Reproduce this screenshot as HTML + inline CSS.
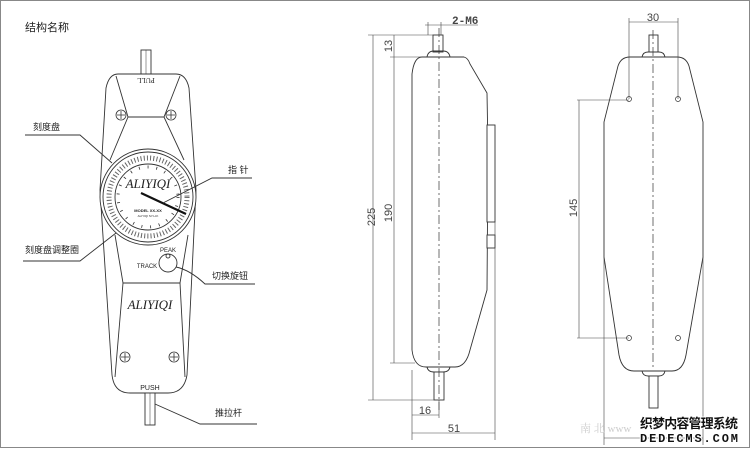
<!DOCTYPE html>
<html><head><meta charset="utf-8"><style>
html,body{margin:0;padding:0;background:#fff}
svg{display:block}
text{font-family:"Liberation Sans","Noto Sans CJK SC",sans-serif}
</style></head><body>
<svg width="750" height="450" viewBox="0 0 750 450" xmlns="http://www.w3.org/2000/svg">
<rect x="0.5" y="0.5" width="749" height="447" fill="#fff" stroke="#888" stroke-width="1"/>
<g fill="none" stroke="#333" stroke-width="0.9">
<rect x="141" y="50" width="10" height="24" fill="#fff"/>
<line x1="146" y1="50" x2="146" y2="74" stroke-width="0.5"/>
<path d="M118,74 L176,74 Q186,74 189,88 L196,190 L187,375 Q184,393 168,393 L130,393 Q114,393 112,375 L100,190 L106,88 Q109,74 118,74 Z" fill="#fff"/>
<path d="M116,76 L128,117 L164,117 L180,76"/>
<path d="M128,117 L110,160 M164,117 L184,160"/>
<path d="M115,235 L123,283 L180,283 L188,235"/>
<path d="M123,283 L115,377 M180,283 L185,377"/>
<g stroke-width="0.8">
<circle cx="121" cy="115" r="5" fill="#fff"/><path d="M117,115h8M121,111v8"/>
<circle cx="171" cy="115" r="5" fill="#fff"/><path d="M167,115h8M171,111v8"/>
<circle cx="125" cy="357" r="5" fill="#fff"/><path d="M121,357h8M125,353v8"/>
<circle cx="174" cy="357" r="5" fill="#fff"/><path d="M170,357h8M174,353v8"/>
</g>
<circle cx="148" cy="197" r="48" fill="#fff"/>
<circle cx="148" cy="197" r="45"/>
<circle cx="148" cy="197" r="39" stroke-dasharray="1 2.2" stroke-width="5" stroke="#666"/>
<circle cx="148" cy="197" r="33" fill="#fff"/>
<circle cx="148" cy="197" r="30" stroke-dasharray="0.8 8" stroke-width="3"/>
<line x1="141" y1="193" x2="186" y2="214" stroke="#111" stroke-width="2.2"/>
<circle cx="168" cy="263" r="9" fill="#fff"/>
<circle cx="168" cy="256" r="2"/>
<rect x="145" y="393" width="10" height="32" fill="#fff"/>
<line x1="150" y1="393" x2="150" y2="425" stroke-width="0.5"/>
<path d="M25,135 L80,135 L112,163"/>
<path d="M252,178 L212,178 L163,203"/>
<path d="M23,261 L80,261 L116,233"/>
<path d="M255,284 L205,284 Q190,270 176,267"/>
<path d="M257,424 L200,424 L155,404"/>
</g>
<g fill="#222">
<text x="25" y="31" font-size="11">结构名称</text>
<text x="33" y="130" font-size="9">刻度盘</text>
<text x="228" y="173" font-size="9">指 针</text>
<text x="25" y="253" font-size="9">刻度盘调整圈</text>
<text x="212" y="279" font-size="9">切换旋钮</text>
<text x="215" y="416" font-size="9">推拉杆</text>
<text x="146" y="82" font-size="7" style="font-family:'Liberation Serif',serif" text-anchor="middle" transform="rotate(180 146 80)">PULL</text>
<text x="148" y="188" font-size="13" style="font-family:'Liberation Serif',serif;font-style:italic" text-anchor="middle">ALIYIQI</text>
<text x="148" y="212" font-size="4" text-anchor="middle" font-weight="bold">MODEL XX-XX</text>
<text x="148" y="217" font-size="3" text-anchor="middle">ALIYIQI SY.H.K</text>
<text x="150" y="309" font-size="13" style="font-family:'Liberation Serif',serif;font-style:italic" text-anchor="middle">ALIYIQI</text>
<text x="150" y="390" font-size="7" text-anchor="middle">PUSH</text>
<text x="147" y="268" font-size="6" text-anchor="middle">TRACK</text>
<text x="168" y="252" font-size="6" text-anchor="middle">PEAK</text>
</g>
<g fill="none" stroke="#333" stroke-width="0.9">
<rect x="433" y="35" width="10" height="17" fill="#fff"/>
<path d="M427,57 Q428,51 434,51 L443,51 Q449,51 450,57"/>
<path d="M422,57 L464,57 Q468,58 470,64 L487,93 L488,150 L487,290 L470,350 Q466,367 455,367 L426,367 Q414,367 412,350 L412,74 Q414,57 422,57 Z" fill="#fff"/>
<rect x="487" y="125" width="8" height="97" fill="#fff"/>
<rect x="487" y="235" width="8" height="13" fill="#fff"/>
<path d="M427,367 Q428,372 434,372 L443,372 Q449,372 450,367"/>
<rect x="434" y="372" width="10" height="28" fill="#fff"/>
<line x1="439" y1="28" x2="439" y2="410" stroke-dasharray="9 3 2 3" stroke-width="0.7"/>
<g stroke-width="0.6" stroke="#444">
<path d="M373,35 V400 M368,35 H433 M368,400 H434"/>
<path d="M394,35 V57 M394,57 V363 M390,57 H422 M390,363 H415"/>
<path d="M425,25 H478 M428,22 V35 M441,22 V35"/>
<path d="M412,370 V440 M439,400 V418 M412,415 H439"/>
<path d="M495,222 V440 M412,433 H495"/>
</g>
</g>
<g fill="#444" font-size="11">
<text transform="translate(375,217) rotate(-90)" text-anchor="middle">225</text>
<text transform="translate(392,213) rotate(-90)" text-anchor="middle">190</text>
<text transform="translate(392,46) rotate(-90)" text-anchor="middle">13</text>
<text x="452" y="24" font-size="11" style="font-family:'Liberation Mono',monospace;font-weight:bold">2-M6</text>
<text x="425" y="414" text-anchor="middle">16</text>
<text x="454" y="432" text-anchor="middle">51</text>
</g>
<g fill="none" stroke="#333" stroke-width="0.9">
<rect x="649" y="35" width="9" height="17" fill="#fff"/>
<path d="M642,57 Q643,52 648,52 L659,52 Q664,52 665,57"/>
<path d="M630,57 L677,57 Q686,57 689,66 L703,122 L703,257 L686,355 Q683,371 672,371 L634,371 Q622,371 619,355 L604,257 L604,122 L618,66 Q621,57 630,57 Z" fill="#fff"/>
<path d="M642,371 Q643,376 648,376 L659,376 Q664,376 665,371"/>
<rect x="649" y="376" width="9" height="32" fill="#fff"/>
<line x1="653" y1="30" x2="653" y2="370" stroke-dasharray="9 3 2 3" stroke-width="0.7"/>
<g stroke-width="0.7">
<circle cx="629" cy="99" r="2.5"/><circle cx="678" cy="99" r="2.5"/>
<circle cx="629" cy="338" r="2.5"/><circle cx="678" cy="338" r="2.5"/>
</g>
<g stroke-width="0.6" stroke="#444">
<path d="M629,18 V99 M678,18 V99 M629,22 H678"/>
<path d="M579,100 V338 M577,100 H629 M577,338 H629"/>
<path d="M604,257 V445 M703,257 V445 M604,438 H703"/>
</g>
</g>
<g fill="#444" font-size="11">
<text x="653" y="21" text-anchor="middle">30</text>
<text transform="translate(577,208) rotate(-90)" text-anchor="middle">145</text>
</g>
<text x="580" y="432" font-size="11" fill="#ccc" style="font-family:'Liberation Serif','Noto Serif CJK SC',serif">南 北 www</text>
<g font-weight="bold" stroke="#fff" stroke-width="2" paint-order="stroke" fill="#111">
<text x="640" y="428" font-size="13" textLength="98">织梦内容管理系统</text>
<text x="640" y="442" font-size="12" style="font-family:'Liberation Mono',monospace" textLength="98">DEDECMS.COM</text>
</g>
</svg>
</body></html>
